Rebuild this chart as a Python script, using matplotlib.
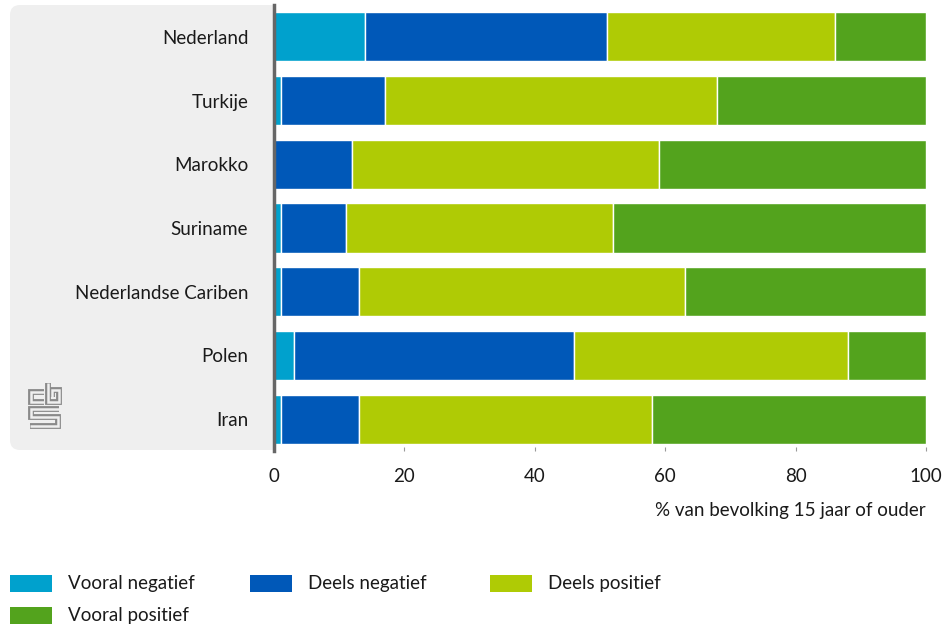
import matplotlib
matplotlib.use('Agg')
import matplotlib.pyplot as plt
from matplotlib.patches import FancyBboxPatch, Rectangle
from matplotlib.lines import Line2D

plt.rcParams['font.family'] = ['Lato', 'DejaVu Sans']

# data
landen = ['Nederland', 'Turkije', 'Marokko', 'Suriname',
          'Nederlandse Cariben', 'Polen', 'Iran']
vooral_negatief = [14, 1, 0, 1, 1, 3, 1]
deels_negatief = [37, 16, 12, 10, 12, 43, 12]
deels_positief = [35, 51, 47, 41, 50, 42, 45]
vooral_positief = [14, 32, 41, 48, 37, 12, 42]

series = ['Vooral negatief', 'Deels negatief', 'Deels positief', 'Vooral positief']
colors = ['#00a1cd', '#0058b8', '#afcb05', '#53a31d']
xticks = [0, 20, 40, 60, 80, 100]

W, H = 945, 627
FS = 13.5
fig = plt.figure(figsize=(W / 100, H / 100), dpi=100)


def fx(px):
    return px / W


def fy(py):
    return 1 - py / H


ax = fig.add_axes([fx(274), fy(451), fx(926) - fx(274), fy(5) - fy(451)])
ax.set_facecolor('white')

# grey label panel
panel = FancyBboxPatch((10, H - 450), 280, 445, boxstyle='round,pad=0,rounding_size=10',
                       transform=None, facecolor='#efefef', edgecolor='none', zorder=-1)
fig.patches.append(panel)

# cbs logo, rough
logo = [[(44, 392), (31, 392), (31, 402), (44, 402)],
        [(48, 383), (48, 402), (59, 402), (59, 390), (52, 390), (52, 397)],
        [(59, 409), (31, 409), (31, 417), (58, 417), (58, 426), (30, 426)]]
for path in logo:
    xs = [fx(p[0]) for p in path]
    ys = [fy(p[1]) for p in path]
    fig.add_artist(Line2D(xs, ys, color='#8a8a8a', lw=4.2, solid_joinstyle='miter',
                          solid_capstyle='butt', transform=fig.transFigure))
    fig.add_artist(Line2D(xs, ys, color='#efefef', lw=1.8, solid_joinstyle='miter',
                          solid_capstyle='butt', transform=fig.transFigure))

data = [vooral_negatief, deels_negatief, deels_positief, vooral_positief]
y = list(range(len(landen)))
left = [0] * len(landen)
for vals, col, name in zip(data, colors, series):
    ax.barh(y, vals, left=left, height=0.77, color=col, edgecolor='white',
            linewidth=1, label=name)
    left = [l + v for l, v in zip(left, vals)]

ax.set_ylim(6.5, -0.5)
ax.set_xlim(0, 100)
ax.set_yticks(y)
ax.set_yticklabels(landen, fontsize=FS, color='#1a1a1a')
ax.tick_params(axis='y', length=0, pad=18.5)
ax.set_xticks(xticks)
ax.set_xticklabels([str(t) for t in xticks], fontsize=FS, color='#1a1a1a')
ax.tick_params(axis='x', direction='in', length=3, width=0.8, color='#999999', pad=12.5)
for s in ['top', 'right', 'bottom']:
    ax.spines[s].set_visible(False)
ax.spines['left'].set_color('#666666')
ax.spines['left'].set_linewidth(2.5)
ax.set_xlabel('% van bevolking 15 jaar of ouder', loc='right', fontsize=FS,
              color='#1a1a1a', labelpad=12)

# legend
leg_pos = [(10, 583), (250, 583), (490, 583), (10, 615)]
for (lx, ly), col, name in zip(leg_pos, colors, series):
    fig.patches.append(Rectangle((fx(lx), fy(ly + 8.5)), fx(42), 17 / H,
                                 transform=fig.transFigure, facecolor=col,
                                 edgecolor='none'))
    fig.text(fx(lx + 58), fy(ly), name, fontsize=FS, color='#1a1a1a', va='center')

fig.savefig('out.png', dpi=100)
